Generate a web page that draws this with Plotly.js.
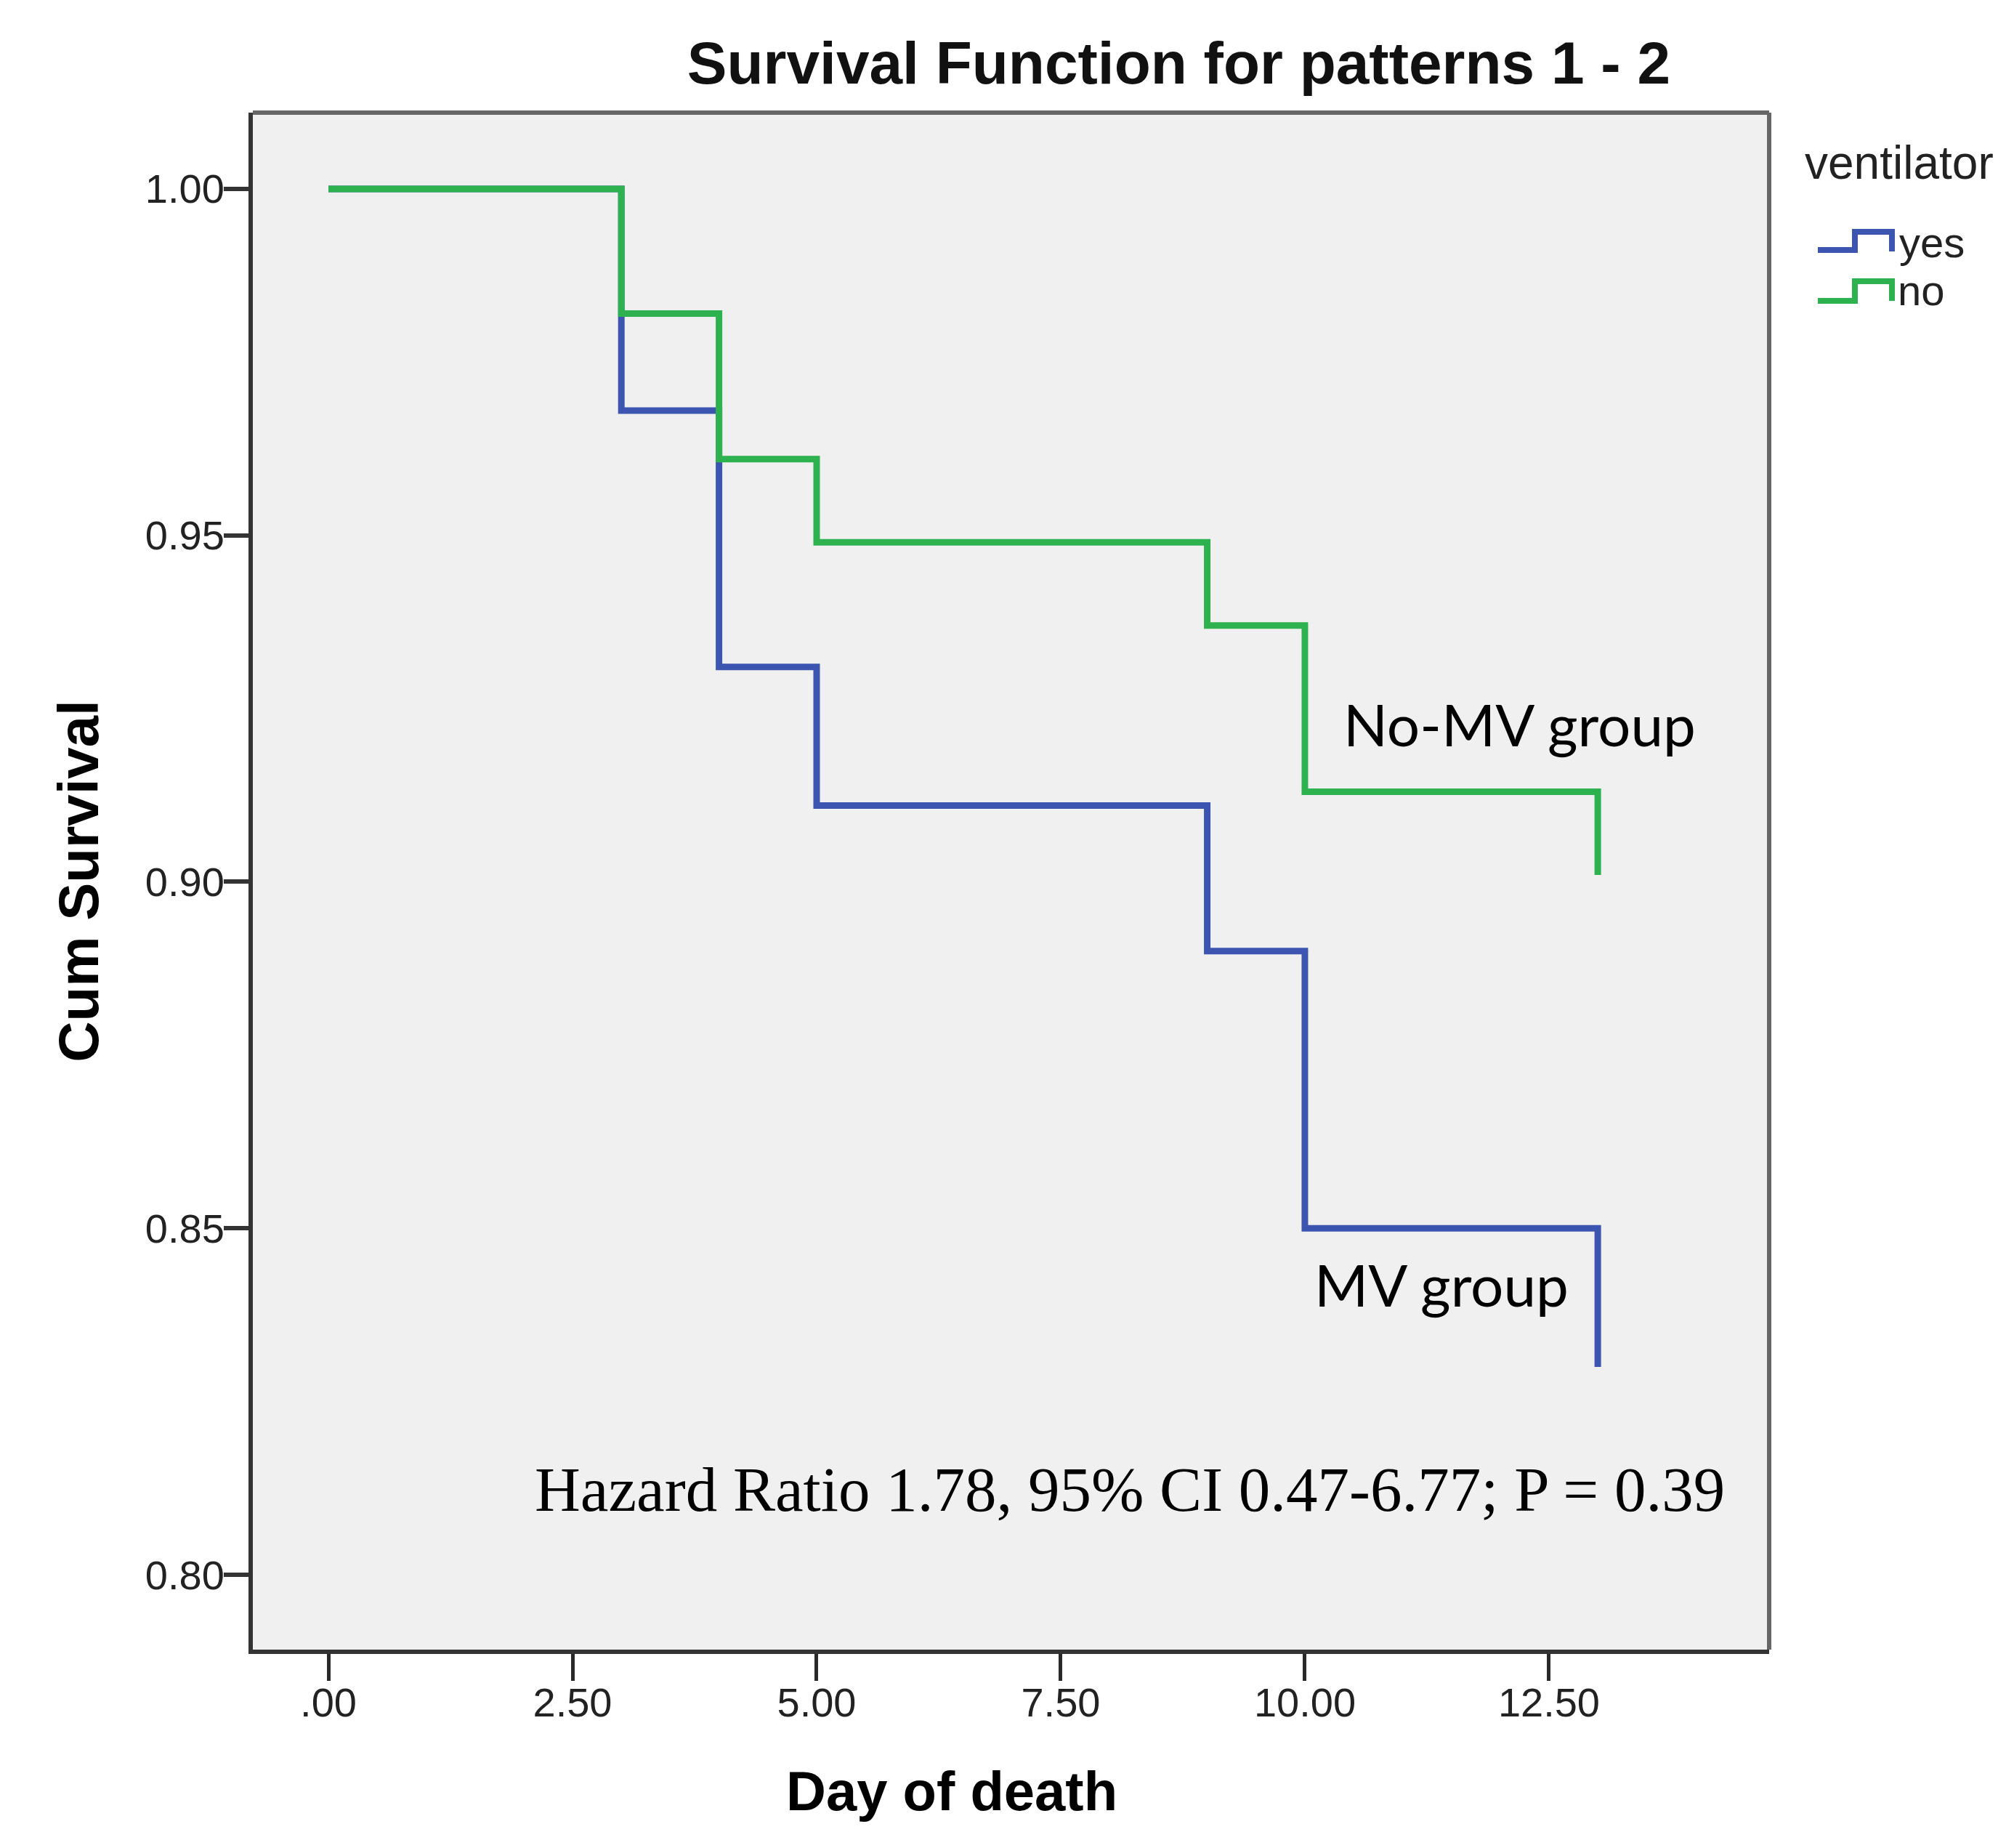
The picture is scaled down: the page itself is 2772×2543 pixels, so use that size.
<!DOCTYPE html>
<html>
<head>
<meta charset="utf-8">
<script src="https://cdn.plot.ly/plotly-3.0.1.min.js"></script>
<style>html,body{margin:0;padding:0;background:#fff;}#chart{width:2772px;height:2543px;}</style>
</head>
<body>
<div id="chart"></div>
<script>
// Kaplan-Meier step data
const daysYes = [0, 3, 4, 5, 9, 10, 13];
const survYes = [1.000, 0.968, 0.931, 0.911, 0.890, 0.850, 0.830];
const daysNo = [0, 3, 4, 5, 9, 10, 13];
const survNo = [1.000, 0.982, 0.961, 0.949, 0.937, 0.913, 0.901];

const xTickVals = [0, 2.5, 5, 7.5, 10, 12.5];
const xTickText = ['.00', '2.50', '5.00', '7.50', '10.00', '12.50'];
const yTickVals = [0.80, 0.85, 0.90, 0.95, 1.00];
const yTickText = ['0.80', '0.85', '0.90', '0.95', '1.00'];

const seriesNames = ['yes', 'no'];
const legendTitle = 'ventilator';
const blue = '#3c55b1';
const green = '#2eb14f';

const W = 2772, H = 2543;
const M = {l: 348, r: 337, t: 155, b: 273};
const PW = W - M.l - M.r, PH = H - M.t - M.b;
// helpers converting page pixels to paper coordinates (for legend decoration)
const px = v => (v - M.l) / PW;
const py = v => (H - M.b - v) / PH;

const traces = [
  {x: daysYes, y: survYes, name: seriesNames[0], mode: 'lines', line: {shape: 'hv', color: blue, width: 9}, showlegend: false},
  {x: daysNo, y: survNo, name: seriesNames[1], mode: 'lines', line: {shape: 'hv', color: green, width: 9}, showlegend: false}
];

const sans = '"Liberation Sans", Arial, sans-serif';
const tickFont = {family: sans, size: 56, color: '#222'};

// step-shaped legend icons
function stepIcon(yLow, yHigh, yEnd, color) {
  const d = `M ${px(2502)} ${py(yLow)} L ${px(2553)} ${py(yLow)} L ${px(2553)} ${py(yHigh)} L ${px(2604)} ${py(yHigh)} L ${px(2604)} ${py(yEnd)}`;
  return {type: 'path', xref: 'paper', yref: 'paper', path: d, line: {color: color, width: 8}};
}

const layout = {
  width: W, height: H,
  margin: M,
  paper_bgcolor: '#ffffff',
  plot_bgcolor: '#f0f0f0',
  showlegend: false,
  title: {
    text: '<b>Survival Function for patterns 1 - 2</b>',
    font: {family: sans, size: 82, color: '#111'},
    x: 0.5853, xanchor: 'center', y: 0.9662, yanchor: 'middle'
  },
  xaxis: {
    range: [-0.774, 14.755],
    tickvals: xTickVals, ticktext: xTickText,
    ticks: 'outside', ticklen: 37, tickwidth: 5, tickcolor: '#2a2a2a',
    tickfont: tickFont, ticklabelstandoff: -18,
    showgrid: false, zeroline: false,
    showline: true, linecolor: '#333', linewidth: 6, mirror: false
  },
  yaxis: {
    range: [0.7892, 1.0110],
    tickvals: yTickVals, ticktext: yTickText,
    ticks: 'outside', ticklen: 34, tickwidth: 6, tickcolor: '#333',
    tickfont: tickFont, ticklabelstandoff: -12,
    showgrid: false, zeroline: false,
    showline: true, linecolor: '#333', linewidth: 6, mirror: false,
    title: {text: '<b>Cum Survival</b>', font: {family: sans, size: 78, color: '#000'}, standoff: 40}
  },
  shapes: [
    {type: 'line', xref: 'paper', yref: 'paper', x0: 0, x1: 1, y0: 1, y1: 1, line: {color: '#666', width: 6}},
    {type: 'line', xref: 'paper', yref: 'paper', x0: 1, x1: 1, y0: 0, y1: 1, line: {color: '#666', width: 6}},
    stepIcon(344, 319, 346, blue),
    stepIcon(414, 387, 414, green)
  ],
  annotations: [
    {x: px(1310), y: py(2509), xref: 'paper', yref: 'paper', text: '<b>Day of death</b>', showarrow: false,
     font: {family: sans, size: 76, color: '#000'}},
    {x: px(2614), y: py(224), xref: 'paper', yref: 'paper', text: legendTitle, showarrow: false,
     xanchor: 'center', yanchor: 'middle', font: {family: sans, size: 64, color: '#222'}},
    {x: px(2612), y: py(333), xref: 'paper', yref: 'paper', text: seriesNames[0], showarrow: false,
     xanchor: 'left', yanchor: 'middle', font: {family: sans, size: 58, color: '#222'}},
    {x: px(2610), y: py(400), xref: 'paper', yref: 'paper', text: seriesNames[1], showarrow: false,
     xanchor: 'left', yanchor: 'middle', font: {family: sans, size: 58, color: '#222'}},
    {x: 12.20, y: 0.9228, xref: 'x', yref: 'y', text: 'No-MV group', showarrow: false,
     font: {family: 'Lato, "Open Sans", sans-serif', size: 80, color: '#000'}},
    {x: 11.40, y: 0.8420, xref: 'x', yref: 'y', text: 'MV group', showarrow: false,
     font: {family: 'Lato, "Open Sans", sans-serif', size: 80, color: '#000'}},
    {x: 8.21, y: 0.8123, xref: 'x', yref: 'y', text: 'Hazard Ratio 1.78, 95% CI 0.47-6.77; P = 0.39', showarrow: false,
     font: {family: '"Liberation Serif", "Times New Roman", serif', size: 87, color: '#000'}}
  ]
};

Plotly.newPlot('chart', traces, layout, {displayModeBar: false, staticPlot: true});
</script>
</body>
</html>
